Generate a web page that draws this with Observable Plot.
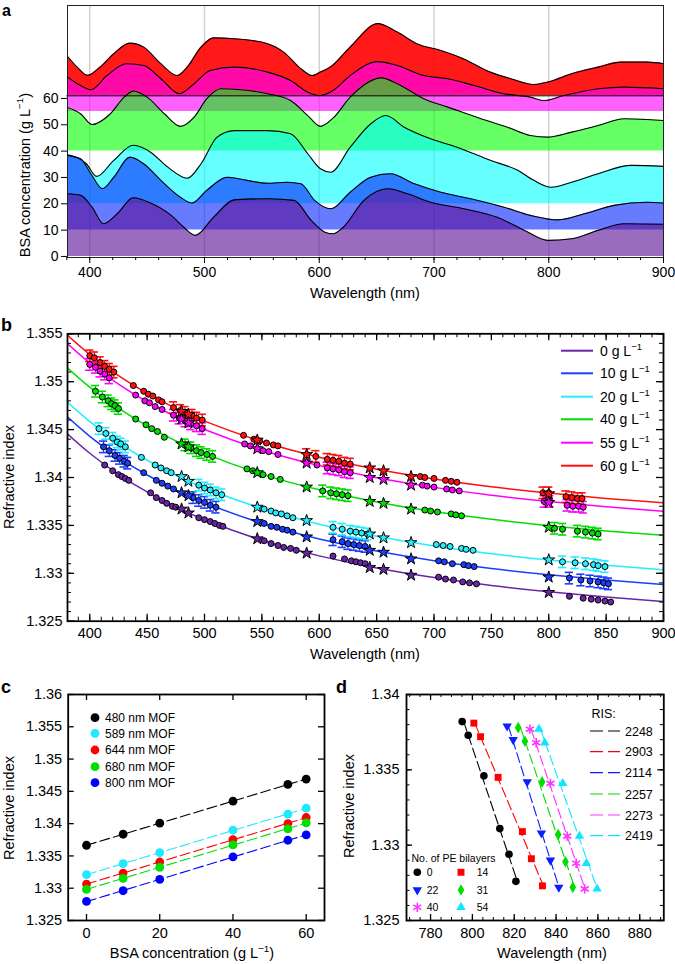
<!DOCTYPE html>
<html><head><meta charset="utf-8">
<script src="https://cdn.jsdelivr.net/npm/d3@7"></script>
<script src="https://cdn.jsdelivr.net/npm/@observablehq/plot@0.6"></script>
<style>
html,body{margin:0;padding:0;background:#fff;}
#root{position:relative;width:675px;height:964px;overflow:hidden;background:#fff;}
</style></head>
<body><div id="root"></div>
<script>
// ================= DATA =================
// ---- shared series ----
const concentrations = [0, 10, 20, 40, 55, 60];
const lineColors = ["#6a24a8", "#1c3cff", "#22eeff", "#00dd00", "#ff00ff", "#ff1010"];

// ---- panel a : reflection spectra, offset by BSA concentration ----
const areaColors = ["#5c1299", "#0a2aff", "#00ffff", "#00ff00", "#ff00ff", "#ff0000"];
const areaOpacity = [0.62, 0.62, 0.6, 0.6, 0.62, 0.9];
const areaBase = [0, 10, 20, 40, 55, 61];
const gridWlA = [400, 500, 600, 700, 800];

const specWl0 = [380,392,402,412,424,438,453,471,482,492,508,526,555,578,593,605,612,621,639,660,677,697,726,755,779,799,820,843,866,900];
const spec0   = [23.8,23.2,18.7,12.4,16.2,22.3,20.3,15.6,11.1,8.0,14.9,21.5,21.9,21.3,13.7,9.2,8.6,11.1,21.3,25.7,23.8,20.6,18.1,14.9,9.9,6.1,6.7,9.9,12.4,12.2];
const specWl10 = [380,392,401,411,421,435,447,462,479,489,502,520,537,555,572,584,596,610,627,645,662,683,706,732,761,784,808,831,857,886,900];
const spec10   = [38.4,37.1,31.4,25.7,30.1,37.7,35.2,28.9,22.5,20.3,25.1,30.1,28.9,27.8,28.2,27.6,21.3,18.1,24.4,30.1,31.4,27.6,24.4,21.9,18.7,15.6,13.9,16.2,19.4,20.6,20.3];
const specWl20 = [380,397,406,421,438,453,468,485,497,511,526,555,575,590,601,610,627,645,658,674,697,720,749,773,787,802,820,843,872,900];
const spec20   = [38.7,35.2,30.4,36.5,42.2,39.6,33.9,29.7,35.2,45.3,47.8,47.8,46.6,39.0,33.3,32.0,41.5,50.4,53.5,49.1,44.7,41.5,36.5,32.7,28.9,26.3,28.2,31.4,34.6,34.2];
const specWl40 = [380,392,402,418,430,438,450,465,479,491,502,514,531,555,575,590,601,612,627,654,668,691,712,741,764,784,799,820,843,866,900];
const spec40   = [56.7,54.2,50.1,54.2,60.5,62.8,60.5,54.2,49.4,52.9,59.9,63.7,63.3,61.8,59.2,53.5,49.4,52.5,60.5,67.8,65.6,59.9,56.7,52.3,49.1,45.9,45.3,47.2,49.7,52.3,51.6];
const specWl55 = [380,392,401,415,432,447,462,478,491,505,526,555,575,590,601,612,627,651,668,691,712,735,761,784,796,813,843,866,900];
const spec55   = [68.4,64.9,63.3,68.7,73.2,72.5,67.5,61.8,65.6,70.6,71.9,70.0,66.8,62.4,61.1,63.0,68.7,74.0,72.5,68.7,67.5,64.9,61.8,60.5,59.2,61.1,63.7,64.3,63.7];
const specWl60 = [380,390,398,409,421,435,447,462,476,485,497,508,526,555,569,584,594,601,610,627,651,668,685,706,726,749,767,787,799,820,843,863,886,900];
const spec60   = [76.3,71.5,68.8,71.9,77.0,81.0,79.5,73.2,68.7,71.9,79.5,83.0,82.7,80.8,77.6,71.3,68.7,70.0,72.0,79.5,88.4,85.2,80.8,78.2,75.0,70.0,67.5,65.3,66.2,69.4,71.9,73.8,73.8,73.2];

// ---- panel b : fitted dispersion curves ----
const fitWl = [380, 400, 425, 450, 475, 500, 550, 600, 650, 700, 750, 800, 850, 900];
const fit0  = [1.34461, 1.34253, 1.34033, 1.33849, 1.33692, 1.33559, 1.33345, 1.33182, 1.33055, 1.32955, 1.32873, 1.32807, 1.32752, 1.32706];
const fit10 = [1.34638, 1.34430, 1.34210, 1.34026, 1.33869, 1.33736, 1.33522, 1.33359, 1.33232, 1.33132, 1.33050, 1.32984, 1.32929, 1.32883];
const fit20 = [1.34792, 1.34584, 1.34364, 1.34180, 1.34023, 1.33890, 1.33676, 1.33513, 1.33386, 1.33286, 1.33204, 1.33138, 1.33083, 1.33037];
const fit40 = [1.35151, 1.34943, 1.34723, 1.34539, 1.34382, 1.34249, 1.34035, 1.33872, 1.33745, 1.33645, 1.33563, 1.33497, 1.33442, 1.33396];
const fit55 = [1.35403, 1.35195, 1.34975, 1.34791, 1.34634, 1.34501, 1.34287, 1.34124, 1.33997, 1.33897, 1.33815, 1.33749, 1.33694, 1.33648];
const fit60 = [1.35491, 1.35283, 1.35063, 1.34879, 1.34722, 1.34589, 1.34375, 1.34212, 1.34085, 1.33985, 1.33903, 1.33837, 1.33782, 1.33736];

// ---- panel b : measured points (circles), with error-bar flags ----
const errHalf = 0.0006;
const wl0 = [413,420,425,428,431,434, 453,458,463,467,472,475, 495,500,505,509,513,516, 552,558,564,569,575,580, 612,622,628,632,636,640, 704,710,717,725,731,737, 818,830,837,843,849,854];
const ri0 = [1.3413,1.3407,1.3403,1.3401,1.3399,1.3397, 1.3384,1.3379,1.3376,1.3373,1.3370,1.3369, 1.3358,1.3356,1.3354,1.3352,1.3350,1.3349, 1.3334,1.3331,1.3329,1.3327,1.3326,1.3324, 1.3318,1.3315,1.3313,1.3312,1.3311,1.3310, 1.3296,1.3294,1.3293,1.3291,1.3290,1.3289, 1.3276,1.3274,1.3273,1.3272,1.3271,1.3270];
const err0 = [];
const wl10 = [412,417, 422,426,430,433, 447, 458,463,468,473, 490,495,500,505,510, 552,558,563,568,572,577, 612,620,625,630,635,640, 704,709,716,726,730,735, 818,828,836,843,848,852];
const ri10 = [1.3432,1.3428, 1.3423,1.3420,1.3417,1.3415, 1.3405, 1.3397,1.3394,1.3391,1.3388, 1.3379,1.3376,1.3374,1.3371,1.3369, 1.3352,1.3349,1.3348,1.3346,1.3345,1.3343, 1.3335,1.3333,1.3331,1.3330,1.3329,1.3328, 1.3313,1.3312,1.3310,1.3309,1.3308,1.3307, 1.3295,1.3293,1.3292,1.3291,1.3290,1.3289];
const err10 = [1,1, 1,1,1,1, 0, 0,0,0,0, 1,1,1,1,1, 0,0,0,0,0,0, 1,1,1,1,1,1, 0,0,0,0,0,0, 1,1,1,1,1,1];
const wl20 = [408,414, 420,424,427,431, 445, 457,462,467,471, 495,500,505,510,515, 552,558,562,567,572,577, 612,620,627,632,637,642, 702,708,714,724,728,734, 812,823,832,839,843,849];
const ri20 = [1.3451,1.3446, 1.3441,1.3437,1.3435,1.3432, 1.3421, 1.3413,1.3410,1.3407,1.3405, 1.3392,1.3389,1.3387,1.3384,1.3382, 1.3367,1.3365,1.3363,1.3362,1.3360,1.3358, 1.3348,1.3346,1.3344,1.3343,1.3342,1.3341, 1.3330,1.3329,1.3328,1.3326,1.3325,1.3324, 1.3312,1.3311,1.3310,1.3309,1.3308,1.3307];
const err20 = [1,1, 1,1,1,1, 0, 0,0,0,0, 1,1,1,1,1, 0,0,0,0,0,0, 1,1,1,1,1,1, 0,0,0,0,0,0, 1,1,1,1,1,1];
const wl40 = [405,411, 416,419,422,425, 440, 449,454,459,465, 483,488,493,497,502,507, 537,542,546,551,558,566, 603,610,615,620,625, 692,697,703,715,719,724, 805,812, 825,832,838,843];
const ri40 = [1.3490,1.3484, 1.3480,1.3477,1.3475,1.3472, 1.3461, 1.3455,1.3451,1.3448,1.3442, 1.3434,1.3431,1.3428,1.3426,1.3424,1.3422, 1.3409,1.3407,1.3405,1.3403,1.3401,1.3398, 1.3386,1.3384,1.3383,1.3382,1.3381, 1.3366,1.3365,1.3364,1.3362,1.3361,1.3360, 1.3347,1.3346, 1.3344,1.3343,1.3342,1.3341];
const err40 = [1,1, 1,1,1,1, 0, 0,0,0,0, 1,1,1,1,1,1, 0,0,0,0,0,0, 1,1,1,1,1, 0,0,0,0,0,0, 1,1, 1,1,1,1];
const wl55 = [400,405,409,413,417, 440, 448,452,457,463, 473,478,483,488,493,498, 535,540,546,551,556,564, 589,598, 607,612,617,622,627, 690,694,700, 711,716,722, 796,801, 816,821,826,830];
const ri55 = [1.3518,1.3515,1.3511,1.3508,1.3504, 1.3486, 1.3480,1.3478,1.3474,1.3471, 1.3465,1.3462,1.3459,1.3456,1.3454,1.3451, 1.3435,1.3433,1.3430,1.3428,1.3427,1.3424, 1.3416,1.3413, 1.3410,1.3409,1.3408,1.3406,1.3405, 1.3392,1.3391,1.3390, 1.3388,1.3387,1.3386, 1.3375,1.3375, 1.3371,1.3370,1.3370,1.3369];
const err55 = [1,1,1,1,1, 0, 0,0,0,0, 1,1,1,1,1,1, 0,0,0,0,0,0, 0,0, 1,1,1,1,1, 0,0,0, 0,0,0, 1,1, 1,1,1,1];
const wl60 = [400,404,409,413,417,421, 438, 447,451,455,460,463, 473,479,483,489,493,498, 534,543,548,554,560,564, 589,597, 607,612,617,622,627, 688,692,700, 710,715,720, 795,800, 815,820,825,829];
const ri60 = [1.3527,1.3525,1.3520,1.3516,1.3513,1.3510, 1.3496, 1.3490,1.3487,1.3485,1.3481,1.3479, 1.3473,1.3470,1.3468,1.3465,1.3462,1.3460, 1.3444,1.3440,1.3438,1.3436,1.3434,1.3433, 1.3424,1.3422, 1.3419,1.3418,1.3417,1.3415,1.3414, 1.3401,1.3400,1.3399, 1.3397,1.3396,1.3395, 1.3384,1.3384, 1.3380,1.3379,1.3378,1.3378];
const err60 = [1,1,1,1,1,1, 0, 0,0,0,0,0, 1,1,1,1,1,1, 0,0,0,0,0,0, 1,1, 1,1,1,1,1, 0,0,0, 0,0,0, 1,1, 1,1,1,1];

// ---- panel b : reference refractometer values (stars) ----
const starWl = [480, 486, 546, 589, 644, 656, 680, 800];
const star0  = [1.3367, 1.3363, 1.3336, 1.3321, 1.3306, 1.3304, 1.3298, 1.3280];
const star10 = [1.3384, 1.3381, 1.3354, 1.3338, 1.3324, 1.3322, 1.3315, 1.3296];
const star20 = [1.3401, 1.3396, 1.3369, 1.3355, 1.3341, 1.3337, 1.3332, 1.3314];
const star40 = [1.3435, 1.3432, 1.3405, 1.3390, 1.3375, 1.3373, 1.3367, 1.3348];
const star55 = [1.3461, 1.3457, 1.3430, 1.3415, 1.3400, 1.3398, 1.3392, 1.3374];
const star60 = [1.3469, 1.3466, 1.3439, 1.3424, 1.3410, 1.3407, 1.3401, 1.3383];

// ---- panel c : RI vs BSA concentration at MOF wavelengths ----
const bsaConc = [0, 10, 20, 40, 55, 60];
const mofWl = [480, 589, 644, 680, 800];
const mofColors = ["#000000", "#1fe8ff", "#ff0000", "#00e000", "#0000ff"];
const ri480 = [1.33665, 1.33836, 1.34007, 1.34348, 1.34607, 1.34690];
const ri589 = [1.33209, 1.33380, 1.33551, 1.33898, 1.34146, 1.34240];
const ri644 = [1.33064, 1.33235, 1.33406, 1.33753, 1.34001, 1.34095];
const ri680 = [1.32981, 1.33152, 1.33323, 1.33670, 1.33919, 1.34012];
const ri800 = [1.32795, 1.32961, 1.33137, 1.33484, 1.33743, 1.33825];

// ---- panel d : resonance wavelength vs RI for PE bilayer counts ----
const peBilayers = [0, 14, 22, 31, 40, 54];
const risValues = ["2248", "2903", "2114", "2257", "2273", "2419"];
const peColors = ["#000000", "#ff0000", "#0a1eff", "#00dd00", "#ff33ff", "#11e6ff"];
const d0Wl  = [795.1, 798.0, 805.5, 813.1, 817.5, 820.8];
const d0Ri  = [1.3382, 1.3373, 1.3346, 1.3311, 1.3294, 1.3276];
const d14Wl = [800.7, 803.9, 812.3, 823.9, 828.2, 833.5];
const d14Ri = [1.3381, 1.3372, 1.3345, 1.3309, 1.3291, 1.3273];
const d22Wl = [816.6, 819.5, 826.2, 833.0, 837.3, 841.3];
const d22Ri = [1.3379, 1.3370, 1.3342, 1.3308, 1.3290, 1.3272];
const d31Wl = [821.9, 825.1, 833.3, 841.0, 844.5, 848.0];
const d31Ri = [1.3378, 1.3369, 1.3342, 1.3307, 1.3289, 1.3272];
const d40Wl = [827.5, 830.5, 837.3, 845.3, 849.6, 853.7];
const d40Ri = [1.3377, 1.3368, 1.3341, 1.3306, 1.3288, 1.3271];
const d54Wl = [831.8, 834.6, 843.2, 851.2, 854.5, 859.6];
const d54Ri = [1.3377, 1.3368, 1.3341, 1.3306, 1.3288, 1.3271];

// ================= RENDER =================
const FONT = '"Liberation Sans", Arial, Helvetica, sans-serif';
const root = document.getElementById("root");
function mount(node, left, top) {
  node.style.position = "absolute";
  node.style.left = left + "px";
  node.style.top = top + "px";
  node.style.maxWidth = "none";
  root.appendChild(node);
}
const style = (fs) => ({fontFamily: FONT, fontSize: fs + "px", background: "transparent", color: "#000", overflow: "visible"});
const fmtRI = d => String(+d.toFixed(3));
const rng = (a, b, s) => d3.range(Math.round(a / s), Math.round(b / s) + 1).map(k => +(k * s).toFixed(4));

// inner ticks helper
function innerTicksX(vals, len, plotH, sw = 1) {
  return [
    Plot.tickX(vals, {x: d => d, insetTop: plotH - len, stroke: "#000", strokeWidth: sw}),
    Plot.tickX(vals, {x: d => d, insetBottom: plotH - len, stroke: "#000", strokeWidth: sw})
  ];
}
function innerTicksY(vals, len, plotW, sw = 1) {
  return [
    Plot.tickY(vals, {y: d => d, insetRight: plotW - len, stroke: "#000", strokeWidth: sw}),
    Plot.tickY(vals, {y: d => d, insetLeft: plotW - len, stroke: "#000", strokeWidth: sw})
  ];
}

// ---------- Panel a ----------
{
  const specWl = [specWl0, specWl10, specWl20, specWl40, specWl55, specWl60];
  const specVal = [spec0, spec10, spec20, spec40, spec55, spec60];
  const marks = [Plot.ruleX(gridWlA, {stroke: "#cfcfcf", strokeWidth: 1.4})];
  let redRows = null;
  for (let i = 5; i >= 0; i--) {
    const rows = specWl[i].map((w, j) => ({w, v: specVal[i][j], base: areaBase[i]}));
    if (i === 5) redRows = rows;
    marks.push(Plot.areaY(rows, {x: "w", y1: "base", y2: "v", fill: areaColors[i], fillOpacity: areaOpacity[i], curve: "monotone-x", clip: true}));
    marks.push(Plot.lineY(rows, {x: "w", y: "v", stroke: "#000", strokeWidth: 1.1, curve: "monotone-x", clip: true}));
  }
  marks.push(Plot.lineY(redRows, {x: "w", y: "base", stroke: "#000", strokeWidth: 1}));
  marks.push(Plot.frame({stroke: "#222", strokeWidth: 1}));
  marks.push(Plot.axisX(d3.range(400, 901, 100), {tickSize: 6, tickPadding: 4, label: null}));
  marks.push(Plot.axisX(d3.range(380, 901, 20), {tickSize: 3, tickFormat: () => "", label: null}));
  marks.push(Plot.axisY(d3.range(0, 61, 10), {tickSize: 6, tickPadding: 3, label: null}));
  const p = Plot.plot({
    width: 675, height: 300, marginLeft: 67, marginRight: 12, marginTop: 5, marginBottom: 43,
    x: {domain: [380.6, 900]}, y: {domain: [-0.4, 95.3]},
    style: style(14), marks
  });
  mount(p, 0, 0);
}

// ---------- Panel b ----------
{
  const W = 675, H = 370, mt = 33.3, mb = 49.3, ml = 67, mr = 12;
  const pw = W - ml - mr, ph = H - mt - mb;
  const fits = [fit0, fit10, fit20, fit40, fit55, fit60];
  const cWl = [wl0, wl10, wl20, wl40, wl55, wl60];
  const cRi = [ri0, ri10, ri20, ri40, ri55, ri60];
  const cErr = [err0, err10, err20, err40, err55, err60];
  const stars = [star0, star10, star20, star40, star55, star60];
  const marks = [];
  for (let i = 0; i < 6; i++) {
    marks.push(Plot.line(fitWl.map((w, j) => ({w, n: fits[i][j]})), {x: "w", y: "n", stroke: lineColors[i], strokeWidth: 1.5, curve: "natural", clip: true}));
  }
  const pts = [];
  for (let i = 0; i < 6; i++) {
    pts[i] = cWl[i].map((w, j) => ({w, n: cRi[i][j], e: cErr[i][j] || 0}));
    const eRows = pts[i].filter(d => d.e);
    marks.push(Plot.ruleX(eRows, {x: "w", y1: d => d.n - errHalf, y2: d => d.n + errHalf, stroke: lineColors[i], strokeWidth: 1.3}));
    marks.push(Plot.ruleY(eRows, {y: d => d.n + errHalf, x1: d => d.w - 3.6, x2: d => d.w + 3.6, stroke: lineColors[i], strokeWidth: 1.6}));
    marks.push(Plot.ruleY(eRows, {y: d => d.n - errHalf, x1: d => d.w - 3.6, x2: d => d.w + 3.6, stroke: lineColors[i], strokeWidth: 1.6}));
  }
  for (let i = 0; i < 6; i++) {
    marks.push(Plot.dot(pts[i], {x: "w", y: "n", r: 3, fill: lineColors[i], stroke: "#000", strokeWidth: 1}));
  }
  for (let i = 0; i < 6; i++) {
    marks.push(Plot.dot(starWl.map((w, j) => ({w, n: stars[i][j]})), {x: "w", y: "n", symbol: "star", r: 3.7, fill: lineColors[i], stroke: "#000", strokeWidth: 1}));
  }
  marks.push(...innerTicksX(rng(390, 900, 10), 4, ph));
  marks.push(...innerTicksX(rng(400, 900, 50), 7, ph, 1.3));
  marks.push(...innerTicksY(rng(1.325, 1.355, 0.001), 4, pw));
  marks.push(...innerTicksY(rng(1.325, 1.355, 0.005), 7, pw, 1.3));
  marks.push(Plot.frame({stroke: "#000", strokeWidth: 1.8}));
  marks.push(Plot.axisX(d3.range(400, 901, 50), {tickSize: 0, tickPadding: 7, label: null}));
  marks.push(Plot.axisY(rng(1.325, 1.355, 0.005), {tickSize: 0, tickPadding: 5, tickFormat: fmtRI, label: null}));
  const p = Plot.plot({
    width: W, height: H, marginLeft: ml, marginRight: mr, marginTop: mt, marginBottom: mb,
    x: {domain: [380.6, 900]}, y: {domain: [1.325, 1.355]},
    style: style(14.5), marks
  });
  mount(p, 0, 300);
}

// ---------- Panel c ----------
{
  const W = 330, H = 294, mt = 24, mb = 44, ml = 67.7, mr = 6;
  const pw = W - ml - mr, ph = H - mt - mb;
  const sets = [ri480, ri589, ri644, ri680, ri800];
  const marks = [];
  sets.forEach((ri, k) => {
    const rows = bsaConc.map((c, j) => ({c, n: ri[j]}));
    marks.push(Plot.linearRegressionY(rows, {x: "c", y: "n", stroke: mofColors[k], strokeWidth: 1.1, strokeDasharray: "10,4", ci: 0}));
  });
  sets.forEach((ri, k) => {
    const rows = bsaConc.map((c, j) => ({c, n: ri[j]}));
    marks.push(Plot.dot(rows, {x: "c", y: "n", r: 4.4, fill: mofColors[k]}));
  });
  marks.push(...innerTicksX([0, 20, 40, 60], 6, ph, 1.3));
  marks.push(...innerTicksY(rng(1.325, 1.36, 0.005), 6, pw, 1.3));
  marks.push(Plot.frame({stroke: "#000", strokeWidth: 1.8}));
  marks.push(Plot.axisX([0, 20, 40, 60], {tickSize: 0, tickPadding: 7, label: null}));
  marks.push(Plot.axisY(rng(1.325, 1.36, 0.005), {tickSize: 0, tickPadding: 6, tickFormat: fmtRI, label: null}));
  const p = Plot.plot({
    width: W, height: H, marginLeft: ml, marginRight: mr, marginTop: mt, marginBottom: mb,
    x: {domain: [-5, 65]}, y: {domain: [1.325, 1.36]},
    style: style(14.5), marks
  });
  mount(p, 0, 670);
}

// ---------- Panel d ----------
const triangleDown = {
  draw(context, size) {
    const y = -Math.sqrt(size / (Math.sqrt(3) * 3));
    context.moveTo(0, -y * 2);
    context.lineTo(-Math.sqrt(3) * y, y);
    context.lineTo(Math.sqrt(3) * y, y);
    context.closePath();
  }
};
const peSymbols = ["circle", "square", triangleDown, "diamond", "asterisk", "triangle"];
const peR = [3.8, 3.9, 3.5, 3.5, 4.4, 3.5];
{
  const W = 345, H = 294, mt = 24, mb = 44, ml = 76, mr = 11.7;
  const pw = W - ml - mr, ph = H - mt - mb;
  const dWl = [d0Wl, d14Wl, d22Wl, d31Wl, d40Wl, d54Wl];
  const dRi = [d0Ri, d14Ri, d22Ri, d31Ri, d40Ri, d54Ri];
  const marks = [];
  for (let i = 0; i < 6; i++) {
    const rows = dWl[i].map((w, j) => ({w, n: dRi[i][j]}));
    marks.push(Plot.linearRegressionX(rows, {x: "w", y: "n", stroke: peColors[i], strokeWidth: 1.1, strokeDasharray: "10,4", ci: 0}));
  }
  for (let i = 0; i < 6; i++) {
    const rows = dWl[i].map((w, j) => ({w, n: dRi[i][j]}));
    if (peSymbols[i] === "asterisk") {
      marks.push(Plot.dot(rows, {x: "w", y: "n", symbol: "asterisk", r: peR[i], stroke: peColors[i], strokeWidth: 1.6, fill: "none"}));
    } else {
      marks.push(Plot.dot(rows, {x: "w", y: "n", symbol: peSymbols[i], r: peR[i], fill: peColors[i], stroke: "none"}));
    }
  }
  marks.push(...innerTicksX(rng(770, 890, 5), 3, ph));
  marks.push(...innerTicksX(rng(780, 880, 20), 6, ph, 1.3));
  marks.push(...innerTicksY(rng(1.325, 1.34, 0.001), 3.5, pw));
  marks.push(...innerTicksY(rng(1.325, 1.34, 0.005), 6, pw, 1.3));
  marks.push(Plot.frame({stroke: "#000", strokeWidth: 1.8}));
  marks.push(Plot.axisX(d3.range(780, 881, 20), {tickSize: 0, tickPadding: 7, label: null}));
  marks.push(Plot.axisY(rng(1.325, 1.34, 0.005), {tickSize: 0, tickPadding: 7, tickFormat: fmtRI, label: null}));
  const p = Plot.plot({
    width: W, height: H, marginLeft: ml, marginRight: mr, marginTop: mt, marginBottom: mb,
    x: {domain: [768.5, 891.5]}, y: {domain: [1.325, 1.34]},
    style: style(14.5), marks
  });
  mount(p, 330, 670);
}

// ---------- Overlay: titles, panel letters, legends ----------
{
  const svg = d3.create("svg").attr("width", 675).attr("height", 964)
    .style("position", "absolute").style("left", "0px").style("top", "0px")
    .style("font-family", FONT).style("pointer-events", "none");
  function text(x, y, s, {size = 14.5, anchor = "start", weight = "normal", rotate = 0} = {}) {
    const t = svg.append("text").attr("font-size", size).attr("text-anchor", anchor).attr("font-weight", weight).attr("fill", "#000");
    if (rotate) t.attr("transform", `translate(${x},${y}) rotate(${rotate})`); else t.attr("x", x).attr("y", y);
    t.text(s);
    return t;
  }
  function textSup(x, y, pre, post, {size = 14.5, anchor = "start", rotate = 0} = {}) {
    const t = svg.append("text").attr("font-size", size).attr("text-anchor", anchor).attr("fill", "#000");
    if (rotate) t.attr("transform", `translate(${x},${y}) rotate(${rotate})`); else t.attr("x", x).attr("y", y);
    t.append("tspan").text(pre);
    t.append("tspan").attr("dy", -size * 0.42).attr("font-size", size * 0.68).text("\u22121");
    if (post) t.append("tspan").attr("dy", size * 0.42).attr("font-size", size).text(post);
    return t;
  }
  // panel letters
  text(2, 15.5, "a", {size: 16, weight: "bold"});
  text(1, 331, "b", {size: 18, weight: "bold"});
  text(1, 693, "c", {size: 18, weight: "bold"});
  text(336, 693, "d", {size: 18, weight: "bold"});
  // axis titles
  text(365, 297.5, "Wavelength (nm)", {anchor: "middle"});
  textSup(29.5, 175, "BSA concentration (g L", ")", {anchor: "middle", rotate: -90});
  text(365, 659, "Wavelength (nm)", {anchor: "middle"});
  text(14, 477, "Refractive index", {anchor: "middle", rotate: -90});
  textSup(192, 958, "BSA concentration (g L", ")", {anchor: "middle"});
  text(14, 808, "Refractive index", {anchor: "middle", rotate: -90});
  text(552, 958, "Wavelength (nm)", {anchor: "middle"});
  text(353.5, 806, "Refractive index", {anchor: "middle", rotate: -90});

  // legend b
  const lbY = [350.7, 373.3, 396.7, 419.3, 442.7, 465.7];
  concentrations.forEach((c, i) => {
    svg.append("line").attr("x1", 561).attr("x2", 593).attr("y1", lbY[i]).attr("y2", lbY[i])
      .attr("stroke", lineColors[i]).attr("stroke-width", 2);
    textSup(600, lbY[i] + 5, `${c} g L`, null, {size: 14});
  });

  // legend c
  const lcY = [717.7, 733.3, 750, 766.7, 782.7];
  mofWl.forEach((w, k) => {
    svg.append("circle").attr("cx", 95).attr("cy", lcY[k]).attr("r", 4.4).attr("fill", mofColors[k]);
    text(105, lcY[k] + 4.3, `${w} nm MOF`, {size: 12});
  });

  // legend d (RIS)
  text(591.5, 718, "RIS:", {size: 12.5});
  const ldY = [731, 751.7, 772.7, 794, 815, 835.7];
  risValues.forEach((r, i) => {
    svg.append("line").attr("x1", 590).attr("x2", 620).attr("y1", ldY[i]).attr("y2", ldY[i])
      .attr("stroke", peColors[i]).attr("stroke-width", 1.2).attr("stroke-dasharray", "13,5");
    text(625, ldY[i] + 4.5, r, {size: 12.5});
  });

  // legend d (PE bilayers)
  text(411.5, 862, "No. of PE bilayers", {size: 10.5});
  const symPos = [[417.3, 872.3], [461, 872.3], [417.3, 890], [461, 890], [417.3, 907.3], [461, 907.3]];
  const d3Sym = [d3.symbolCircle, d3.symbolSquare, triangleDown, d3.symbolDiamond, d3.symbolAsterisk, d3.symbolTriangle];
  peBilayers.forEach((n, i) => {
    const [x, y] = symPos[i];
    const path = svg.append("path").attr("transform", `translate(${x},${y})`)
      .attr("d", d3.symbol(d3Sym[i], Math.PI * peR[i] * peR[i])());
    if (i === 4) path.attr("fill", "none").attr("stroke", peColors[i]).attr("stroke-width", 1.5);
    else path.attr("fill", peColors[i]);
    text(x + (i % 2 === 0 ? 9.4 : 15.7), y + 3.8, String(n), {size: 10.5});
  });

  root.appendChild(svg.node());
}
</script>
</body></html>
